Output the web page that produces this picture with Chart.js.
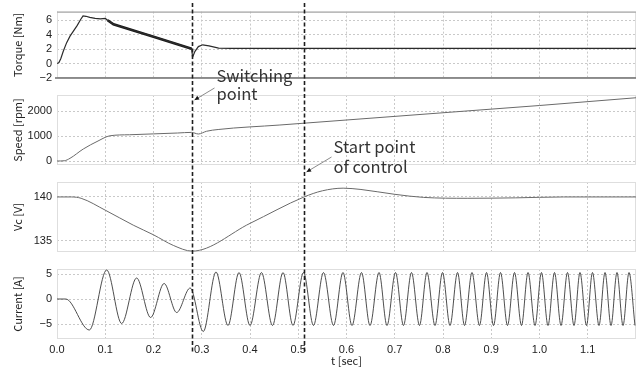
<!DOCTYPE html>
<html><head><meta charset="utf-8">
<script src="https://cdn.jsdelivr.net/npm/chart.js@4.4.0/dist/chart.umd.min.js"></script>
<style>
html,body{margin:0;padding:0;background:#fff;}
#wrap{position:relative;width:642px;height:367px;overflow:hidden;background:#fff;}
.layer{position:absolute;left:0;top:0;width:642px;height:367px;}
</style></head><body>
<div id="wrap">
<div class="layer"><canvas id="c1" width="642" height="367"></canvas></div>
<div class="layer"><canvas id="c2" width="642" height="367"></canvas></div>
<div class="layer"><canvas id="c3" width="642" height="367"></canvas></div>
<div class="layer"><canvas id="c4" width="642" height="367"></canvas></div>
</div>
<script>
// ---------- data ----------
const xTicks = [0.0, 0.1, 0.2, 0.3, 0.4, 0.5, 0.6, 0.7, 0.8, 0.9, 1.0, 1.1];
const eventTimes = [0.28, 0.512];
const eventLabels = [["Switching", "point"], ["Start point", "of control"]];

const torqueTicks = [-2, 0, 2, 4, 6];
const torqueT = [0, 0.004, 0.008, 0.013, 0.02, 0.027, 0.034, 0.042, 0.049, 0.054, 0.06, 0.068, 0.079, 0.09, 0.1, 0.105, 0.117, 0.2, 0.279, 0.281, 0.286, 0.293, 0.302, 0.315, 0.335, 0.36, 1.2];
const torqueV = [0, 0.15, 0.7, 1.7, 2.9, 3.8, 4.5, 5.3, 6.1, 6.6, 6.55, 6.4, 6.25, 6.2, 6.25, 6.0, 5.45, 3.73, 2.05, 0.9, 1.7, 2.35, 2.6, 2.45, 2.15, 2.1, 2.1];
const rippleT = [0.105, 0.117, 0.2, 0.279];
const rippleV = [6.0, 5.45, 3.73, 2.05];

const speedTicks = [0, 1000, 2000];
const speedT = [0, 0.015, 0.027, 0.0545, 0.085, 0.11, 0.15, 0.2, 0.25, 0.279, 0.293, 0.31, 0.334, 0.462, 0.6, 0.8, 1.0, 1.2];
const speedV = [0, 10, 108, 480, 800, 1010, 1050, 1085, 1120, 1145, 1080, 1190, 1260, 1440, 1640, 1930, 2220, 2530];

const vcTicks = [135, 140];
const vcT = [0, 0.03, 0.05, 0.1, 0.158, 0.2, 0.241, 0.28, 0.4, 0.512, 0.55, 0.593, 0.63, 0.7, 0.76, 0.85, 0.95, 1.05, 1.2];
const vcV = [140, 140, 139.85, 138.5, 136.8, 135.7, 134.5, 133.85, 137.0, 140.0, 140.7, 141.0, 140.85, 140.3, 139.95, 139.85, 139.9, 140.0, 140.0];

const currentTicks = [-5, 0, 5];
const currentT = [0, 0.018, 0.067, 0.103, 0.134, 0.165, 0.194, 0.222, 0.248, 0.276,
  0.3032, 0.3295, 0.3544, 0.3772, 0.4, 0.4238, 0.4466, 0.4684, 0.4891, 0.5109,
  0.5316, 0.5523, 0.5731, 0.5927, 0.6114, 0.6311, 0.6487, 0.6674, 0.6839, 0.7016,
  0.7181, 0.7347, 0.7513, 0.7668, 0.7834, 0.799, 0.8145, 0.8301, 0.8446, 0.8601,
  0.8756, 0.8902, 0.9047, 0.9192, 0.9337, 0.9482, 0.9627, 0.9762, 0.9907, 1.0041,
  1.0176, 1.0311, 1.0446, 1.058, 1.0715, 1.0839, 1.0974, 1.1098, 1.1233, 1.1358,
  1.1482, 1.1606, 1.1731, 1.1855, 1.1979];
const currentA = [0, 0, -6.2, 5.8, -4.9, 4.2, -3.7, 3.1, -2.7, 2.2,
  -6.5, 5.4, -5.3, 5.3, -5.3, 5.3, -5.3, 5.3, -5.3, 5.3,
  -5.3, 5.3, -5.3, 5.3, -5.3, 5.3, -5.3, 5.3, -5.3, 5.3,
  -5.3, 5.3, -5.3, 5.3, -5.3, 5.3, -5.3, 5.3, -5.3, 5.3,
  -5.3, 5.3, -5.3, 5.3, -5.3, 5.3, -5.3, 5.3, -5.3, 5.3,
  -5.3, 5.3, -5.3, 5.3, -5.3, 5.3, -5.3, 5.3, -5.3, 5.3,
  -5.3, 5.3, -5.3, 5.3, -5.3];

// ---------- helpers ----------
const W = 642, H = 367;
const RIGHT_PAD = 6, Y_AXIS_W = 57;
const TICK_FONT = {family: "'Liberation Sans', Arial, sans-serif", size: 11};
const TITLE_FONT = {family: "'Noto Sans CJK JP', 'Noto Sans', sans-serif", size: 11};
const GRID_COLOR = '#c9c9c9';
const fmt = v => (v < 0 ? '\u2212' + Math.abs(v) : String(v));
const pts = (ts, vs) => ts.map((t, i) => ({x: t, y: vs[i]}));

const panelFrame = {
  id: 'panelFrame',
  beforeDatasetsDraw(chart, args, opts) {
    const {ctx, chartArea: a} = chart;
    ctx.save();
    ctx.strokeStyle = '#dedede';
    ctx.lineWidth = 1;
    ctx.strokeRect(a.left + 0.5, a.top + 0.5, a.right - a.left - 1, a.bottom - a.top - 1);
    if (opts && opts.strong) {
      ctx.strokeStyle = '#9a9a9a';
      ctx.beginPath(); ctx.moveTo(a.left, a.top + 0.5); ctx.lineTo(a.right, a.top + 0.5); ctx.stroke();
      ctx.strokeStyle = '#6e6e6e'; ctx.lineWidth = 1.5;
      ctx.beginPath(); ctx.moveTo(a.left - 2, a.bottom); ctx.lineTo(a.right, a.bottom); ctx.stroke();
    }
    ctx.restore();
  }
};

const overlay = {
  id: 'overlay',
  afterDraw(chart) {
    const ctx = chart.ctx, xs = chart.scales.x;
    ctx.save();
    const px = eventTimes.map(t => Math.round(xs.getPixelForValue(t)) + 0.5);
    ctx.strokeStyle = '#1e1e1e'; ctx.lineWidth = 1.6; ctx.setLineDash([4, 2.5]);
    px.forEach(x => { ctx.beginPath(); ctx.moveTo(x, 3); ctx.lineTo(x, 352); ctx.stroke(); });
    ctx.setLineDash([]);
    const ann = [
      {dx: 24, base: [82, 100], tail: [22, 88], tip: [2, 100]},
      {dx: 29, base: [153, 173], tail: [27, 157], tip: [2, 172]}
    ];
    ann.forEach((a, i) => {
      const x0 = px[i];
      ctx.strokeStyle = '#8a8a8a'; ctx.lineWidth = 1;
      ctx.beginPath(); ctx.moveTo(x0 + a.tail[0], a.tail[1]); ctx.lineTo(x0 + a.tip[0], a.tip[1]); ctx.stroke();
      const ang = Math.atan2(a.tip[1] - a.tail[1], a.tip[0] - a.tail[0]);
      const hx = x0 + a.tip[0], hy = a.tip[1];
      ctx.fillStyle = '#111';
      ctx.beginPath();
      ctx.moveTo(hx, hy);
      ctx.lineTo(hx - 5 * Math.cos(ang - 0.45), hy - 5 * Math.sin(ang - 0.45));
      ctx.lineTo(hx - 5 * Math.cos(ang + 0.45), hy - 5 * Math.sin(ang + 0.45));
      ctx.closePath(); ctx.fill();
      ctx.fillStyle = '#333';
      ctx.font = "16.5px 'Noto Sans CJK JP', 'Noto Sans', sans-serif";
      ctx.textAlign = 'left'; ctx.textBaseline = 'alphabetic';
      eventLabels[i].forEach((s, k) => ctx.fillText(s, x0 + a.dx, a.base[k]));
    });
    ctx.restore();
  }
};

function makeChart(id, datasets, y, top, bottom, isBottom, plugins, frameOpts) {
  const xAxis = {
    type: 'linear', min: 0, max: 1.2,
    afterBuildTicks: s => { s.ticks = xTicks.map(v => ({value: v})); },
    afterFit: s => { s.height = isBottom ? H - bottom : 0; },
    grid: {color: GRID_COLOR, drawTicks: false, lineWidth: 1},
    border: {display: false, dash: [2, 2]},
    ticks: {display: isBottom, font: TICK_FONT, color: '#222', padding: 4, maxRotation: 0, autoSkip: false,
            callback: v => Number(v).toFixed(1)},
    title: {display: isBottom, text: 't [sec]', font: TITLE_FONT, color: '#222', padding: {top: 0, bottom: 0}}
  };
  const yAxis = {
    type: 'linear', min: y.min, max: y.max,
    afterBuildTicks: s => { s.ticks = y.ticks.map(v => ({value: v})); },
    afterFit: s => { s.width = Y_AXIS_W; },
    grid: {color: GRID_COLOR, drawTicks: false, lineWidth: 1},
    border: {display: false, dash: [2, 2]},
    ticks: {font: TICK_FONT, color: '#222', padding: 5, autoSkip: false, callback: v => fmt(v)},
    title: {display: true, text: y.title, font: TITLE_FONT, color: '#222', padding: {top: 11, bottom: 0}}
  };
  return new Chart(document.getElementById(id), {
    type: 'line',
    data: {datasets},
    options: {
      responsive: false, animation: false, devicePixelRatio: 1,
      layout: {padding: {top: top, bottom: isBottom ? 0 : H - bottom, left: 0, right: RIGHT_PAD}},
      plugins: {legend: {display: false}, tooltip: {enabled: false}, panelFrame: frameOpts || {}},
      elements: {point: {radius: 0}},
      scales: {x: xAxis, y: yAxis}
    },
    plugins: [panelFrame].concat(plugins || [])
  });
}

const ds = (data, color, width, smooth) => ({
  data, borderColor: color, borderWidth: width, pointRadius: 0, fill: false,
  tension: 0, cubicInterpolationMode: smooth ? 'monotone' : 'default'
});

makeChart('c1', [
  ds(pts(torqueT, torqueV), '#2b2b2b', 1.2, false),
  ds(pts(rippleT, rippleV), '#1a1a1a', 2.6, false)
], {min: -2, max: 7.2, ticks: torqueTicks, title: 'Torque [Nm]'}, 8, 78, false, [], {strong: true});

makeChart('c2', [ds(pts(speedT, speedV), '#6a6a6a', 1, true)],
  {min: -160, max: 2640, ticks: speedTicks, title: 'Speed [rpm]'}, 95, 165, false);

makeChart('c3', [ds(pts(vcT, vcV), '#6a6a6a', 1, true)],
  {min: 133.75, max: 141.7, ticks: vcTicks, title: 'Vc [V]'}, 182, 252, false);

makeChart('c4', [ds(pts(currentT, currentA), '#3a3a3a', 0.9, true)],
  {min: -8, max: 6, ticks: currentTicks, title: 'Current [A]'}, 269, 339, true, [overlay]);
</script>
</body></html>
